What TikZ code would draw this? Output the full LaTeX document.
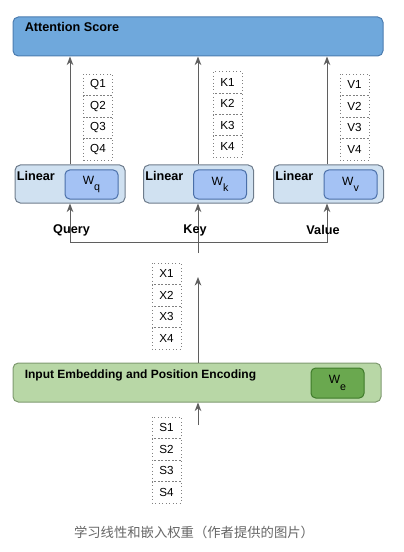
\documentclass[tikz,border=0pt]{standalone}
\usepackage{fontspec}
\setmainfont{Liberation Sans}
\newfontfamily\cjk{Noto Sans CJK SC}
\usetikzlibrary{arrows.meta,positioning}
\definecolor{scorefill}{HTML}{6FA8DC}
\definecolor{scoreline}{HTML}{4C7DB0}
\definecolor{linfill}{HTML}{D0E1F1}
\definecolor{linline}{HTML}{6E7C8C}
\definecolor{wfill}{HTML}{A4C2F4}
\definecolor{wline}{HTML}{4A6FA8}
\definecolor{embfill}{HTML}{B8D7A6}
\definecolor{embline}{HTML}{7F9A70}
\definecolor{wefill}{HTML}{6AA84F}
\definecolor{weline}{HTML}{3E7A2A}
\definecolor{arrowgray}{HTML}{5F5F5F}

\begin{document}
\begin{tikzpicture}[x=0.75pt,y=-0.75pt,>={Stealth[length=6.5pt,width=5pt]},
    flow/.style={->,draw=arrowgray,line width=0.75pt},
    bigbox/.style={draw=#1line,fill=#1fill,rounded corners=4pt,line width=0.75pt,
      minimum height=29.25pt,inner sep=0pt},
    linbox/.style={draw=linline,fill=linfill,rounded corners=4pt,line width=0.75pt,
      minimum width=82.5pt,minimum height=28.5pt,inner sep=0pt},
    wbox/.style={draw=wline,fill=wfill,rounded corners=3.5pt,line width=0.75pt,
      minimum width=39.75pt,minimum height=21.75pt,inner sep=0pt,font=\fontsize{9}{10}\selectfont},
    tok/.style={draw=gray,dotted,line width=0.6pt,minimum width=21.75pt,
      minimum height=16.1pt,inner sep=0pt,font=\fontsize{8.75}{10}\selectfont},
    lbl/.style={inner sep=0pt,font=\bfseries\fontsize{9.5}{11}\selectfont}]
  \useasboundingbox (0,0) rectangle (403,552);

  % attention score
  \node[bigbox=score,minimum width=277.5pt] (score) at (198,36.5) {};
  \node[lbl,anchor=north west] at ([xshift=9pt,yshift=-4.5pt]score.north west) {Attention Score};

  % linear layers
  \node[linbox] (qlin) at (70,184) {};
  \node[linbox] (klin) at (198.5,184) {};
  \node[linbox] (vlin) at (328.5,184) {};
  \foreach \n in {qlin,klin,vlin}
    \node[lbl,anchor=north west] at ([xshift=1.5pt,yshift=-5.25pt]\n.north west) {Linear};
  \node[wbox] (wq) at (91.5,184.5) {W\raisebox{-5pt}{\fontsize{8}{9}\selectfont q}};
  \node[wbox] (wk) at (220,184.5) {W\raisebox{-5pt}{\fontsize{8}{9}\selectfont k}};
  \node[wbox] (wv) at (350.5,184.5) {W\raisebox{-5pt}{\fontsize{8}{9}\selectfont v}};

  % embedding
  \node[bigbox=emb,minimum width=276pt] (emb) at (197,382.5) {};
  \node[lbl,anchor=north west,font=\bfseries\fontsize{9}{11}\selectfont]
    at ([xshift=9pt,yshift=-5.25pt]emb.north west) {Input Embedding and Position Encoding};
  \node[wbox,draw=weline,fill=wefill,minimum height=22.5pt] (we) at (337.5,383)
    {W\raisebox{-5pt}{\fontsize{8}{9}\selectfont e}};

  % token columns
  \foreach \i in {1,...,4} {
    \node[tok] (q\i) at (98,{74+21.5*(\i-0.5)}) {Q\i};
    \node[tok] (k\i) at (227.5,{72+21.25*(\i-0.5)}) {K\i};
    \node[tok] (v\i) at (354.5,{74+21.5*(\i-0.5)}) {V\i};
    \node[tok] (x\i) at (166.5,{263+21.5*(\i-0.5)}) {X\i};
    \node[tok] (s\i) at (166.5,{417+21.5*(\i-0.5)}) {S\i};
  }

  % connectors
  \coordinate (hub) at (198,242);
  \coordinate (split) at (198,253);
  \coordinate (vtap) at (327,184);
  \coordinate (xtop) at (198,277);
  \coordinate (sin) at (198,425);
  \draw[flow] (qlin.north) -- (score.south -| qlin.north);
  \draw[flow] (klin.north -| hub) -- (score.south -| hub);
  \draw[flow] (vlin.north -| vtap) -- (score.south -| vtap);
  \draw[flow] (split) -- (hub) -| (qlin.south);
  \draw[flow] (hub) -- (klin.south -| hub);
  \draw[flow] (hub) -| (vlin.south -| vtap);
  \draw[flow] (emb.north -| xtop) -- (xtop);
  \draw[flow] (sin) -- (emb.south -| sin);

  \node[lbl] (query) at (71.5,230) {Query};
  \node[lbl] (key) at (195,230) {Key};
  \node[lbl] (value) at (323,230) {Value};

  % caption
  \node[font=\cjk\fontsize{10}{12}\selectfont,text=black!60] (caption) at (194,532)
    {学习线性和嵌入权重（作者提供的图片）};
\end{tikzpicture}
\end{document}
